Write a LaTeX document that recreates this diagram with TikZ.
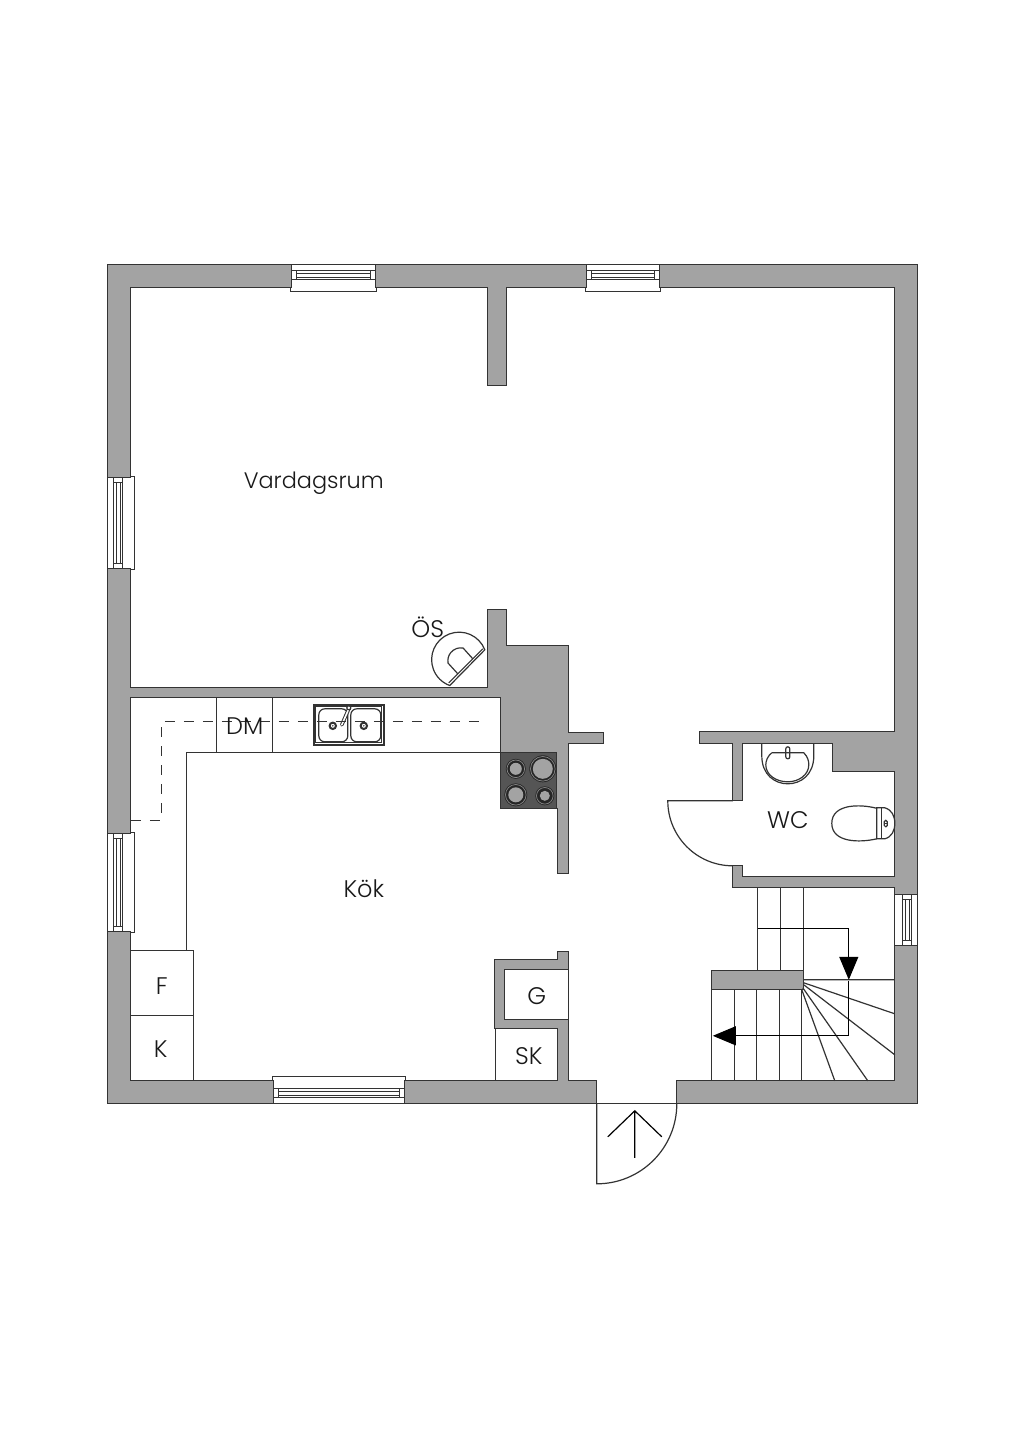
\documentclass[tikz,border=0pt]{standalone}
\usepackage{fontspec}
\setmainfont{Poppins Light}
\usetikzlibrary{arrows.meta}
\definecolor{wallgray}{HTML}{A3A3A3}
\definecolor{wallline}{HTML}{333333}
\definecolor{hobgray}{HTML}{555555}
\tikzset{
    thinline/.style = {draw=wallline, line width=0.6pt},
    wall/.style = {thinline, fill=wallgray, even odd rule},
    winline/.style = {draw=wallline, line width=0.45pt},
    label/.style = {font=\fontsize{12}{14}\selectfont, text=black!90, inner sep=0pt},
    walk/.style = {draw=black, line width=0.55pt, -{Triangle[length=11.5pt,width=9.5pt]}}
}
\newcommand{\winh}[5]{
    \draw[winline,fill=white] ({#1+1},#3) -- ({#1+1},{#3+#4*23}) -- (#1,{#3+#4*23}) -- (#1,{#3+#4*#5})
        -- (#2,{#3+#4*#5}) -- (#2,{#3+#4*23}) -- ({#2-1},{#3+#4*23}) -- ({#2-1},#3) -- cycle;
    \draw[winline] ({#1+1},{#3+#4*6}) rectangle ({#2-1},{#3+#4*15});
    \draw[winline] ({#1+6},{#3+#4*6}) rectangle ({#2-6},{#3+#4*15});
    \draw[winline] ({#1+6},{#3+#4*8.5}) rectangle ({#2-6},{#3+#4*12.5});
}
\newcommand{\winv}[5]{
    \draw[winline,fill=white] (#3,{#1+1}) -- ({#3+#4*23},{#1+1}) -- ({#3+#4*23},#1) -- ({#3+#4*#5},#1)
        -- ({#3+#4*#5},#2) -- ({#3+#4*23},#2) -- ({#3+#4*23},{#2-1}) -- (#3,{#2-1}) -- cycle;
    \draw[winline] ({#3+#4*6},{#1+1}) rectangle ({#3+#4*15},{#2-1});
    \draw[winline] ({#3+#4*6},{#1+6}) rectangle ({#3+#4*15},{#2-6});
    \draw[winline] ({#3+#4*8.5},{#1+6}) rectangle ({#3+#4*12.5},{#2-6});
}
\begin{document}
\begin{tikzpicture}[x=0.5pt,y=-0.5pt]
\useasboundingbox (0.2,0.2) rectangle (1024.2,1448.2);
\fill[white] (0.2,0.2) rectangle (1024.2,1448.2);

% walls
\draw[wall] (108,265) rectangle (918,1104)
    (131,288) -- (488,288) -- (488,386) -- (507,386) -- (507,288) -- (895,288) -- (895,732)
    -- (700,732) -- (700,744) -- (733,744) -- (733,801) -- (743,801) -- (743,744) -- (833,744)
    -- (833,772) -- (895,772) -- (895,877) -- (743,877) -- (743,866) -- (733,866) -- (733,888)
    -- (895,888) -- (895,1081) -- (677,1081) -- (677,1104) -- (597,1104) -- (597,1081) -- (569,1081)
    -- (569,1020) -- (505,1020) -- (505,970) -- (569,970) -- (569,952) -- (558,952) -- (558,960)
    -- (495,960) -- (495,1029) -- (558,1029) -- (558,1081) -- (131,1081) -- (131,698) -- (501,698)
    -- (501,809) -- (558,809) -- (558,874) -- (569,874) -- (569,744) -- (604,744) -- (604,733)
    -- (569,733) -- (569,646) -- (507,646) -- (507,610) -- (488,610) -- (488,688) -- (131,688) -- cycle;
\draw[thinline] (569,970) -- (569,1020);

% windows
\winh{291}{377}{265}{1}{27}
\winh{586}{661}{265}{1}{27}
\winh{273}{406}{1104}{-1}{27}
\winv{477}{570}{108}{1}{27}
\winv{833}{933}{108}{1}{27}
\winv{894}{947}{918}{-1}{23}

% kitchen fittings
\draw[thinline] (187,950) -- (187,753) -- (501,753);
\draw[thinline] (217,698) -- (217,753) (273,698) -- (273,753);
\draw[thinline] (131,951) rectangle (194,1016);
\draw[thinline] (131,1016) rectangle (194,1081);
\draw[thinline] (496,1029) -- (496,1081);

% sink
\draw[thinline, line width=0.7pt] (314,705) rectangle (384,745);
\draw[thinline] (316,707) rectangle (382,743);
\draw[thinline, rounded corners=3pt] (319,709) rectangle (348,742);
\draw[thinline, rounded corners=3pt] (351,709) rectangle (381,742);
\foreach \cx in {333,364} {
    \draw[thinline, line width=1pt] (\cx,726) circle (3.2);
    \fill[wallline] (\cx,726) circle (0.8);
}
\draw[wallline, line width=1.8pt, line cap=round] (349,709) -- (342,725);
\draw[white, line width=0.8pt, line cap=round] (349,709) -- (342,725);
\draw[thinline, fill=white] (349,708) circle (2);

\draw[dash pattern=on 5pt off 4.5pt, thinline] (131,820.4) -- (161.3,820.4) -- (161.3,721.4) -- (488,721.4);

% hob
\draw[thinline, fill=hobgray] (501,753) rectangle (557,809);
\foreach \cx/\cy/\rad/\core in {516/769/10/6, 543/769/13.5/10, 516/795/11.5/7.5, 545/796/9.5/5} {
    \fill[black!85] (\cx,\cy) circle (\rad);
    \draw[hobgray!70!white, line width=0.35pt] (\cx,\cy) circle ({\rad-1.2});
    \fill[wallgray] (\cx,\cy) circle (\core);
}

% stove
\draw[thinline, fill=white] (485,650) arc[start angle=-21, end angle=-250, radius=27.5] -- cycle;
\draw[thinline] (483,649) -- (449,683);
\draw[thinline] (473,659) -- (463.3,648.2) arc[start angle=-80, end angle=-190, radius=13] -- (458,674);

% wc
\draw[thinline] (762,744) -- (762,756) .. controls (762,775) and (775,784) .. (788,784)
    .. controls (801,784) and (814,775) .. (814,756) -- (814,744);
\draw[thinline] (772,753) -- (804,753) .. controls (808,757) and (809,761) .. (809,765)
    .. controls (809,775) and (799,782) .. (788,782) .. controls (776,782) and (766,775) .. (766,765)
    .. controls (766,761) and (768,756) .. (772,753);
\draw[thinline, rounded corners=1pt] (786,747) rectangle (790,759);
\draw[thinline] (877,808.5) .. controls (860,804) and (832,804) .. (832,823.5)
    .. controls (832,843) and (860,843) .. (877,839);
\draw[thinline] (877,808) -- (885,808) .. controls (892,810) and (895,816) .. (895,823.5)
    .. controls (895,831) and (892,837) .. (885,839) -- (877,839) -- cycle;
\draw[thinline] (882,808) -- (882,839);
\draw[thinline, rounded corners=0.7pt] (884.5,820.5) rectangle (887.5,827);
\draw[thinline] (884.5,823.7) -- (887.5,823.7);

% doors
\draw[thinline] (733,801) -- (668,801) arc[start angle=180, end angle=90, radius=65];
\draw[thinline] (597,1104) -- (597,1184) arc[start angle=90, end angle=0, radius=80];
\draw[draw=black, line width=0.6pt] (635,1158) -- (635,1111) (608,1137) -- (635,1111) -- (662,1137);

% stairs
\foreach \sx in {758,781,804} \draw[thinline] (\sx,888) -- (\sx,971);
\foreach \sx in {712,735,757,780,802} \draw[thinline] (\sx,990) -- (\sx,1081);
\draw[wall] (712,971) rectangle (804,990);
\draw[thinline] (804,980) -- (895,980) (804,983) -- (895,1014) (804,985) -- (895,1055)
    (803,988) -- (868,1081) (802,990) -- (835,1081);
\coordinate (runtop) at (758,929);
\coordinate (runturn) at (849,929);
\coordinate (runtip) at (849,980);
\coordinate (lowstart) at (849,981);
\coordinate (lowturn) at (849,1036);
\coordinate (lowtip) at (713,1036);
\draw[walk] (runtop) -- (runturn) -- (runtip);
\draw[walk] (lowstart) -- (lowturn) -- (lowtip);

% rooms
\node[label, font=\fontsize{11.2}{14}\selectfont] (vardagsrum) at (314,483) {Vardagsrum};
\node[label] (os) at (428,627) {ÖS};
\node[label] (dm) at (245,726) {DM};
\node[label] (kok) at (364,889) {Kök};
\node[label] (wc) at (788,820) {WC};
\node[label] (fridge) at (162,986) {F};
\node[label] (freezer) at (161,1049) {K};
\node[label] (gcloset) at (537,996) {G};
\node[label] (skcloset) at (529,1056) {SK};
\end{tikzpicture}
\end{document}
